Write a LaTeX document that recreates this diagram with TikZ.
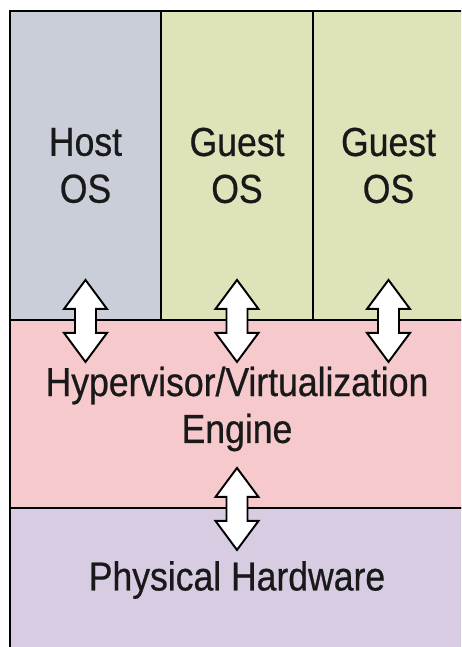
\documentclass[tikz,border=0pt]{standalone}
\usepackage{fontspec}
\setmainfont[FakeStretch=0.88,FakeBold=0.6]{Liberation Sans}
\definecolor{hostgray}{HTML}{C9CED9}
\definecolor{guestgreen}{HTML}{DFE3B9}
\definecolor{hyperpink}{HTML}{F6C9CD}
\definecolor{hwlilac}{HTML}{D8CCE3}
\begin{document}
\begin{tikzpicture}[x=0.02cm,y=-0.02cm,
  layer/.style={draw=black,line width=1.1pt,inner sep=0pt,align=center,text=black!90,
    font=\fontsize{23}{26.7}\selectfont},
  fatarrow/.pic={\draw[fill=white,line width=1.1pt,line join=miter]
    (0,-41)--(21.5,-12)--(10.5,-12)--(10.5,12)--(21.5,12)--(0,41)
    --(-21.5,12)--(-10.5,12)--(-10.5,-12)--(-21.5,-12)--cycle;}]
\useasboundingbox (0,0) rectangle (461,647);
\begin{scope}
\clip (0,0) rectangle (461,647);
% top row
\node[layer,fill=hostgray,minimum width=3.02cm,minimum height=6.18cm] (host) at (85.5,165.5) {Host\\OS};
\node[layer,fill=guestgreen,minimum width=3.04cm,minimum height=6.18cm] (guesta) at (237,165.5) {Guest\\OS};
\node[layer,fill=guestgreen,minimum width=3.02cm,minimum height=6.18cm] (guestb) at (388.5,165.5) {Guest\\OS};
% hypervisor and hardware
\node[layer,fill=hyperpink,minimum width=9.08cm,minimum height=3.76cm] (hyper) at (237,414) {};
\node[font=\fontsize{23}{26.7}\selectfont,text=black!90,align=center] (hypertext) at (237,409) {Hypervisor/Virtualization\\Engine};
\node[layer,fill=hwlilac,minimum width=9.08cm,minimum height=2.88cm] (hw) at (237,580) {Physical Hardware};
% links
\foreach \n in {host,guesta,guestb} \pic at (\n.south) {fatarrow};
\pic at (hyper.south) {fatarrow};
\end{scope}
\end{tikzpicture}
\end{document}
